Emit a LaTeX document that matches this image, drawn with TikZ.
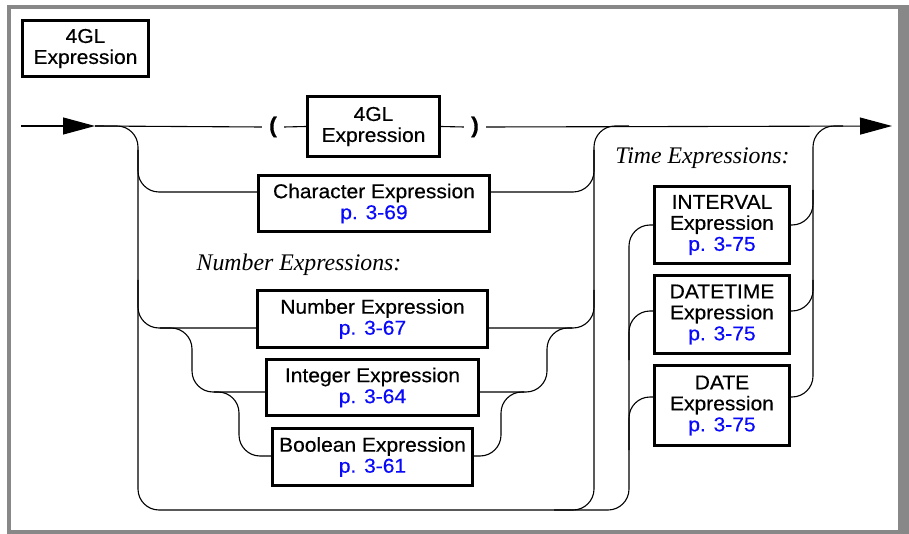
\documentclass[tikz,border=0pt]{standalone}
\usepackage{fontspec}
\setmainfont{Liberation Serif}
\setsansfont[FakeStretch=1.05,FakeBold=0.4]{Liberation Sans}
\usetikzlibrary{arrows.meta}

\definecolor{frameGray}{RGB}{136,136,136}
\definecolor{pageBlue}{RGB}{10,10,250}
\newcommand{\seepage}[1]{\textcolor{pageBlue}{#1}}

\begin{document}
\begin{tikzpicture}[x=1pt,y=-1pt,
  box/.style={draw,line width=2.6pt,align=center,inner sep=0pt,font=\sffamily\fontsize{20}{21}\selectfont},
  rail/.style={line width=1.1pt,rounded corners=21pt},
  tip/.style={-{Triangle[length=32pt,width=17pt]}},
  grouplbl/.style={font=\itshape\fontsize{23.8}{25}\selectfont,anchor=base},
  paren/.style={font=\sffamily\bfseries\fontsize{22}{22}\selectfont,inner sep=7pt}]
\fill[white] (0,0) rectangle (909,534);
\fill[frameGray] (7,5) rectangle (909,534);
\fill[white] (11,9) rectangle (898,530);

% boxes
\node[box,minimum width=126pt,minimum height=56pt] (title) at (85.5,48.5) {4GL\\Expression};
\node[box,minimum width=132pt,minimum height=60pt] (inner) at (373.5,126.5) {4GL\\Expression};
\node[paren] (lp) at (273,127) {(};
\node[paren] (rp) at (475,127) {)};
\node[box,minimum width=231pt,minimum height=56pt] (char) at (374,203.5) {Character Expression\\\seepage{p. 3-69}};
\node[box,minimum width=230pt,minimum height=57pt] (num) at (372.5,319) {Number Expression\\\seepage{p. 3-67}};
\node[box,minimum width=212pt,minimum height=56pt] (int) at (372.5,387.5) {Integer Expression\\\seepage{p. 3-64}};
\node[box,minimum width=200pt,minimum height=57pt] (bool) at (372.5,457) {Boolean Expression\\\seepage{p. 3-61}};
\node[box,minimum width=135pt,minimum height=77pt] (ivl) at (722,225) {INTERVAL\\Expression\\\seepage{p. 3-75}};
\node[box,minimum width=135pt,minimum height=78pt] (dtm) at (722,314.5) {DATETIME\\Expression\\\seepage{p. 3-75}};
\node[box,minimum width=135pt,minimum height=80pt] (date) at (722,405.5) {DATE\\Expression\\\seepage{p. 3-75}};
\node[grouplbl] (numlbl) at (299,271) {Number Expressions:};
\node[grouplbl] (timelbl) at (702.5,164) {Time Expressions:};

\coordinate (start) at (21,126);
\coordinate (entry) at (95,126);
\coordinate (finish) at (892,126);
\coordinate (busL) at (138,510);
\coordinate (busR) at (594,510);
\coordinate (busT) at (629,510);
\coordinate (busTR) at (813,126);

% main line
\draw[rail,tip] (start) -- (entry);
\draw[rail] (entry) -- (lp.west);
\draw[rail] (lp.east) -- (inner.west);
\draw[rail] (inner.east) -- (rp.west);
\draw[rail,tip] (rp.east) -- (finish);

% left bus and bottom way to the time expressions
\draw[rail] (entry) -| (busL) -- (busT) |- (ivl.west);
\draw[rail] ([xshift=-40pt]busR) -| (busR |- entry) -- (busT |- entry);
\draw[rail] (busL |- 0,150) |- (char.west |- 0,192);
\draw[rail] (char.east |- 0,192) -| (busR |- 0,150);
\draw[rail] (busL |- 0,280) |- (num.west |- 0,328);
\draw[rail] (num.east |- 0,328) -| (busR |- 0,290);

% number sub-branches
\draw[rail] (160,328) -| (192,392) -- (int.west |- 0,392);
\draw[rail] (214,392) -| (239,456) -- (bool.west |- 0,456);
\draw[rail] (int.east |- 0,392) -| (547,328) -- (572,328);
\draw[rail] (bool.east |- 0,456) -| (501,392) -- (524,392);

% time expressions
\draw[rail] (busT |- 0,360) |- (dtm.west |- 0,311);
\draw[rail] (busT |- 0,450) |- (date.west |- 0,397);
\draw[rail] (date.east |- 0,397) -| (busTR) -- ([xshift=30pt]busTR);
\draw[rail] (ivl.east) -| (busTR |- 0,190);
\draw[rail] (dtm.east |- 0,311) -| (busTR |- 0,280);
\end{tikzpicture}
\end{document}
